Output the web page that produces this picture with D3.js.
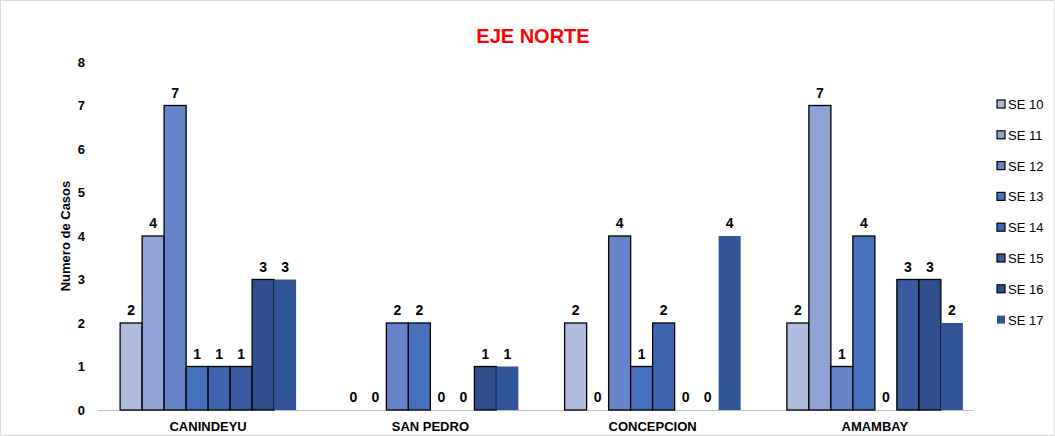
<!DOCTYPE html>
<html><head><meta charset="utf-8">
<script src="https://cdn.jsdelivr.net/npm/d3@7"></script>
<style>body{margin:0;background:#fff}text{font-family:"Liberation Sans",Arial,sans-serif}</style>
</head><body><svg id="c" width="1055" height="436"></svg>
<script>
var departments = ["CANINDEYU", "SAN PEDRO", "CONCEPCION", "AMAMBAY"];
var weeks = ["SE 10", "SE 11", "SE 12", "SE 13", "SE 14", "SE 15", "SE 16", "SE 17"];
var canindeyu = [2, 4, 7, 1, 1, 1, 3, 3];
var sanPedro = [0, 0, 2, 2, 0, 0, 1, 1];
var concepcion = [2, 0, 4, 1, 2, 0, 0, 4];
var amambay = [2, 7, 1, 4, 0, 3, 3, 2];
var yTicks = [0, 1, 2, 3, 4, 5, 6, 7, 8];
var colors = ["#b0bcdf", "#8fa3d4", "#6684c9", "#4571bc", "#3e66af", "#365ba0", "#2f4f8c", "#2f5597"];
var values = [canindeyu, sanPedro, concepcion, amambay];

var svg = d3.select("#c");
svg.append("rect").attr("x", 0.5).attr("y", 0.5).attr("width", 1054).attr("height", 435)
  .attr("fill", "#fff").attr("stroke", "#d9d9d9");

var x0 = d3.scaleBand().domain(departments).range([97, 986]);
var x1 = d3.scaleBand().domain(weeks).range([0, 176]);
var y = d3.scaleLinear().domain([0, 8]).range([410, 62]);

svg.append("text").attr("x", 533).attr("y", 43).attr("text-anchor", "middle")
  .attr("fill", "#ff0000").attr("font-size", 20).attr("font-weight", "bold").text("EJE NORTE");

var yAx = svg.append("g").attr("transform", "translate(97,0)")
  .call(d3.axisLeft(y).tickValues(yTicks).tickSize(0).tickPadding(12));
yAx.select(".domain").remove();
yAx.selectAll("text").attr("font-size", 13).attr("font-weight", "bold").attr("fill", "#000");

svg.append("text").attr("transform", "translate(70,236) rotate(-90)").attr("text-anchor", "middle")
  .attr("font-size", 13).attr("font-weight", "bold").text("Numero de Casos");

svg.append("line").attr("x1", 97).attr("x2", 973).attr("y1", 410.5).attr("y2", 410.5).attr("stroke", "#bfbfbf");

departments.forEach(function (d, i) {
  var g = svg.append("g").attr("transform", "translate(" + (x0(d) + (x0.bandwidth() - 176) / 2) + ",0)");
  values[i].forEach(function (v, j) {
    g.append("rect").attr("x", x1(weeks[j])).attr("y", y(v)).attr("width", x1.bandwidth())
      .attr("height", 410 - y(v)).attr("fill", colors[j])
      .attr("stroke", j < 7 && v > 0 ? "#000" : "none").attr("stroke-width", 1.3);
    g.append("text").attr("x", x1(weeks[j]) + x1.bandwidth() / 2).attr("y", y(v) - 8)
      .attr("text-anchor", "middle").attr("font-size", 14).attr("font-weight", "bold").text(v);
  });
  svg.append("text").attr("x", x0(d) + x0.bandwidth() / 2).attr("y", 431).attr("text-anchor", "middle")
    .attr("font-size", 13).attr("font-weight", "bold").text(d);
});

weeks.forEach(function (w, j) {
  var yy = 104 + j * 30.8;
  svg.append("rect").attr("x", 997).attr("y", yy - 4).attr("width", 8).attr("height", 8)
    .attr("fill", colors[j]).attr("stroke", j < 7 ? "#000" : "none").attr("stroke-width", 1.2);
  svg.append("text").attr("x", 1008).attr("y", yy + 5).attr("font-size", 13).text(w);
});
</script></body></html>
